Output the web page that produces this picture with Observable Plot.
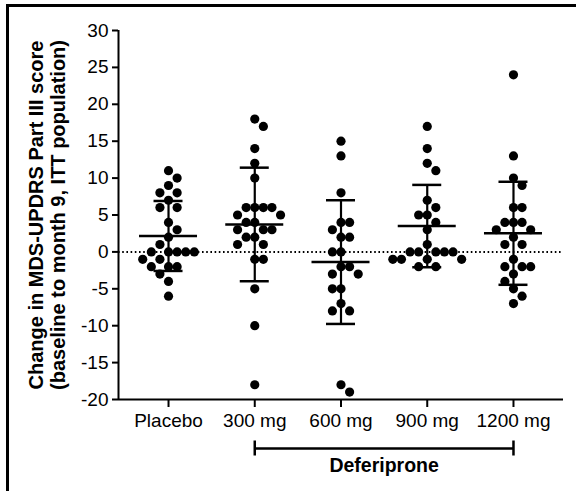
<!DOCTYPE html>
<html>
<head>
<meta charset="utf-8">
<script src="https://cdn.jsdelivr.net/npm/d3@7"></script>
<script src="https://cdn.jsdelivr.net/npm/@observablehq/plot@0.6"></script>
<style>
  html, body { margin: 0; padding: 0; background: #fff; }
  #wrap { position: relative; width: 576px; height: 491px; overflow: hidden; }
  #frame { position: absolute; left: 6px; top: 4px; width: 600px; height: 520px;
           border-left: 3px solid #000; border-top: 3px solid #000; box-sizing: border-box; }
  #chart { position: absolute; left: 0; top: 0; }
</style>
</head>
<body>
<div id="wrap"><div id="frame"></div><div id="chart"></div></div>
<script>
// ---- data ----
const groups = ["Placebo", "300 mg", "600 mg", "900 mg", "1200 mg"];
const placebo = [11, 10, 9, 8, 8, 7, 6, 6, 4, 3, 2, 1, 0, 0, 0, 0, 0, -1, -1, -2, -2, -2, -3, -4, -6];
const mg300  = [18, 17, 14, 12, 10, 6, 6, 6, 6, 5, 5, 4, 4, 3, 3, 3, 2, 2, 1, 1, -1, -1, -5, -10, -18];
const mg600  = [15, 13, 8, 4, 4, 3, 2, 2, 0, 0, -2, -2, -3, -3, -5, -5, -7, -8, -8, -18, -19];
const mg900  = [17, 14, 12, 11, 7, 6, 5, 5, 4, 3, 1, 0, 0, 0, 0, 0, -1, -1, -1, -1, -2, -2];
const mg1200 = [24, 13, 10, 9, 6, 6, 4, 4, 4, 3, 3, 2, 1, 1, -1, -2, -2, -2, -3, -4, -5, -6, -7];
const yTicks = [-20, -15, -10, -5, 0, 5, 10, 15, 20, 25, 30];
const bracketLabel = "Deferiprone";
const bracketFrom = "300 mg", bracketTo = "1200 mg";
const yLabel = "Change in MDS-UPDRS Part III score\n(baseline to month 9, ITT population)";

// ---- layout ----
const W = 576, H = 491, ML = 118, MR = 13, MT = 30, MB = 92;
const xDom = [-0.58, groups.length - 1 + 0.58];
const yDom = [-20, 30];
const pxX = (W - ML - MR) / (xDom[1] - xDom[0]);
const pxY = (H - MT - MB) / (yDom[1] - yDom[0]);

const series = [placebo, mg300, mg600, mg900, mg1200];

// simple balanced beeswarm (pixel space) so dots do not overlap
const spacing = 8.6, minDist = 8.4;
const points = [];
series.forEach((vals, gi) => {
  const placed = [];
  const sorted = [...vals].sort((a, b) => b - a);
  sorted.forEach((v) => {
    const py = v * pxY;
    const free = ox => placed.every(p => Math.hypot(p.ox - ox, p.py - py) >= minDist);
    const balance = d3.sum(placed.filter(p => Math.abs(p.py - py) < 2 * minDist), p => p.ox);
    let chosen = null;
    for (let m = 0; m < 20 && chosen === null; m++) {
      if (m === 0) { if (free(0)) chosen = 0; continue; }
      const first = balance > 0 ? -1 : 1;
      for (const s of [first, -first]) {
        if (chosen === null && free(s * m * spacing)) chosen = s * m * spacing;
      }
    }
    placed.push({ox: chosen, py});
    points.push({group: groups[gi], gi, value: v, xj: gi + chosen / pxX});
  });
});

const stats = series.map((vals, i) => ({i, mean: d3.mean(vals), sd: d3.deviation(vals)}));
const caps = stats.flatMap(d => [{i: d.i, y: d.mean - d.sd}, {i: d.i, y: d.mean + d.sd}]);
const meanHalf = 29 / pxX, capHalf = 14.5 / pxX;
const b1 = groups.indexOf(bracketFrom), b2 = groups.indexOf(bracketTo);

const chart = Plot.plot({
  width: W, height: H,
  marginLeft: ML, marginRight: MR, marginTop: MT, marginBottom: MB,
  style: {fontFamily: "'Liberation Sans', Arial, sans-serif", fontSize: "19px", color: "#000", background: "transparent", overflow: "visible"},
  x: {type: "linear", domain: xDom},
  y: {domain: yDom},
  marks: [
    Plot.ruleY([0], {stroke: "#000", strokeWidth: 2, strokeDasharray: "1.6,2.6"}),
    Plot.dot(points, {x: "xj", y: "value", r: 4.6, fill: "#000", stroke: "none"}),
    Plot.ruleX(stats, {x: "i", y1: d => d.mean - d.sd, y2: d => d.mean + d.sd, stroke: "#000", strokeWidth: 2.2}),
    Plot.ruleY(stats, {y: "mean", x1: d => d.i - meanHalf, x2: d => d.i + meanHalf, stroke: "#000", strokeWidth: 2.5}),
    Plot.ruleY(caps, {y: "y", x1: d => d.i - capHalf, x2: d => d.i + capHalf, stroke: "#000", strokeWidth: 2.5}),
    Plot.ruleX([xDom[0]], {stroke: "#000", strokeWidth: 2}),
    Plot.ruleY([yDom[0]], {stroke: "#000", strokeWidth: 2}),
    Plot.axisY({ticks: yTicks, tickSize: 6, tickPadding: 4, fontSize: 19, strokeWidth: 2, label: null, tickFormat: d => String(d).replace("\u2212", "-")}),
    Plot.axisX({ticks: groups.map((g, i) => i), tickSize: 8, tickPadding: 6, fontSize: 19, strokeWidth: 2, label: null, tickFormat: i => groups[i]}),
    Plot.ruleY([{a: b1, b: b2}], {y: yDom[0], x1: "a", x2: "b", dy: 49, stroke: "#000", strokeWidth: 2.5}),
    Plot.ruleX([b1, b2], {x: d => d, y1: yDom[0], y2: yDom[0], dy: 49, insetTop: -7.5, insetBottom: -7.5, stroke: "#000", strokeWidth: 2.5}),
    Plot.text([bracketLabel], {x: (b1 + b2) / 2, y: yDom[0], dy: 66, text: d => d, fontWeight: "bold", fontSize: 19.5, fill: "#000"}),
    Plot.text([yLabel], {frameAnchor: "left", text: d => d, rotate: -90, dx: -71.5, textAnchor: "middle", lineHeight: 1.1, fontWeight: "bold", fontSize: 20, fill: "#000"})
  ]
});
document.getElementById("chart").appendChild(chart);
</script>
</body>
</html>
